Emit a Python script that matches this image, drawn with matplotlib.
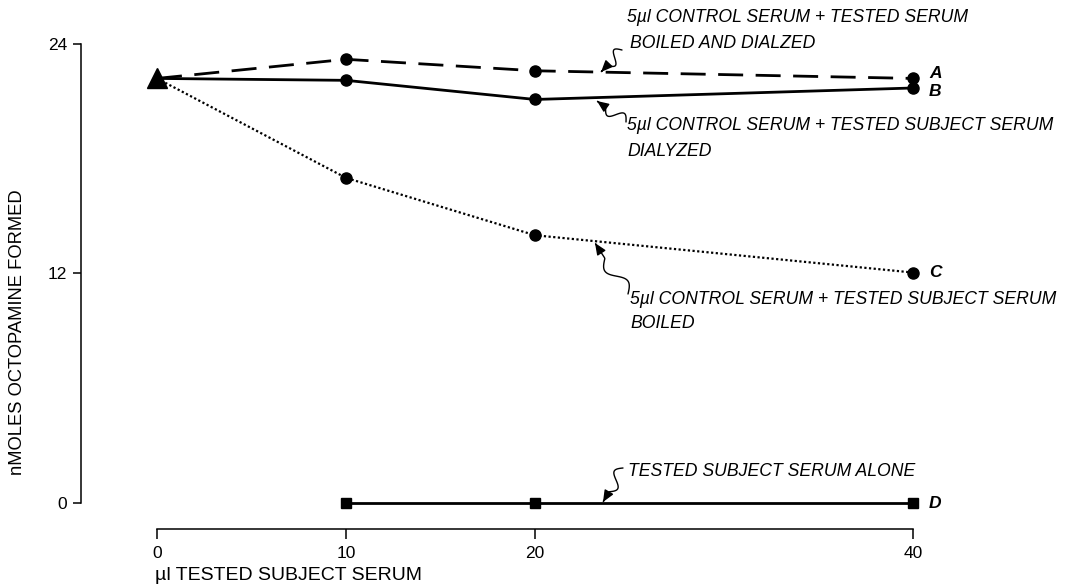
import numpy as np
import matplotlib
matplotlib.use("Agg")
import matplotlib.pyplot as plt
from matplotlib.patches import FancyArrowPatch
from matplotlib.path import Path
from matplotlib.transforms import IdentityTransform

plt.rcParams.update({
    "font.family": ["Liberation Sans", "DejaVu Sans"],
    "font.size": 12,
})

# data
x_all = [0, 10, 20, 40]
a_vals = [22.2, 23.2, 22.6, 22.2]   # boiled and dialyzed
b_vals = [22.2, 22.1, 21.1, 21.7]   # dialyzed
c_vals = [22.2, 17.0, 14.0, 12.05]  # boiled
x_d = [10, 20, 40]
d_vals = [0.0, 0.0, 0.0]            # tested serum alone
xticks = [0, 10, 20, 40]
yticks = [0, 12, 24]

W, H = 1071, 586
fig = plt.figure(figsize=(W / 100, H / 100), dpi=100, facecolor="white")
ax = fig.add_axes([81 / W, (H - 529) / H, (W - 81) / W, 529 / H])

pxx = (913 - 157) / 40.0
pxy = (503 - 44) / 24.0
ax.set_xlim((81 - 157) / pxx, (W - 157) / pxx)
ax.set_ylim((503 - 529) / pxy, 503 / pxy)

ax.plot(x_all, a_vals, color="black", lw=2.0, dashes=(9, 4.5), zorder=2)
ax.plot(x_all[1:], a_vals[1:], "o", color="black", ms=8, zorder=3)
ax.plot(x_all, b_vals, color="black", lw=2.0, zorder=2)
ax.plot(x_all[1:], b_vals[1:], "o", color="black", ms=8, zorder=3)
ax.plot(x_all, c_vals, color="black", lw=1.6, ls=(0, (1, 1.1)), zorder=2)
ax.plot(x_all[1:], c_vals[1:], "o", color="black", ms=8, zorder=3)
ax.plot(x_d, d_vals, color="black", lw=2.0, marker="s", ms=7.5, zorder=3)
ax.plot([0], [a_vals[0]], "^", color="black", ms=14, zorder=4)

for s in ["top", "right"]:
    ax.spines[s].set_visible(False)
ax.spines["left"].set_bounds(0, 24)
ax.spines["bottom"].set_bounds(0, 40)
ax.spines["left"].set_linewidth(1.1)
ax.spines["bottom"].set_linewidth(1.1)
ax.set_xticks(xticks)
ax.set_yticks(yticks)
ax.tick_params(axis="y", direction="out", length=6, width=1.1, pad=4, labelsize=12.5)
ax.tick_params(axis="x", direction="out", length=7, width=1.1, pad=5, labelsize=12.5)
ax.set_facecolor("none")

fig.text(18 / W, 1 - 332 / H, "nMOLES OCTOPAMINE FORMED", rotation=90,
         ha="center", va="center", fontsize=13.2)
fig.text(155 / W, 1 - 576 / H, "\u00b5l TESTED SUBJECT SERUM",
         ha="left", va="center", fontsize=14)

# end labels
lab_kw = dict(fontsize=12.5, fontweight="bold", fontstyle="italic",
              ha="left", va="center")
ax.annotate("A", (40, a_vals[-1]), xytext=(16, 5), textcoords="offset pixels", **lab_kw)
ax.annotate("B", (40, b_vals[-1]), xytext=(16, -4), textcoords="offset pixels", **lab_kw)
ax.annotate("C", (40, c_vals[-1]), xytext=(16, 0), textcoords="offset pixels", **lab_kw)
ax.annotate("D", (40, d_vals[-1]), xytext=(16, 0), textcoords="offset pixels", **lab_kw)

note_kw = dict(fontsize=12.7, fontstyle="italic", ha="left", va="center")


def ptext(px, py, s):
    fig.text(px / W, 1 - py / H, s, **note_kw)


ptext(627, 18, "5\u00b5l CONTROL SERUM + TESTED SERUM")
ptext(630, 44, "BOILED AND DIALZED")
ptext(627, 126, "5\u00b5l CONTROL SERUM + TESTED SUBJECT SERUM")
ptext(627, 152, "DIALYZED")
ptext(630, 300, "5\u00b5l CONTROL SERUM + TESTED SUBJECT SERUM")
ptext(630, 323, "BOILED")
ptext(628, 472, "TESTED SUBJECT SERUM ALONE")


def squiggle(tail, head, amp=6):
    # wavy leader from tail to head (pixel coords, y down)
    tx, ty = tail
    hx, hy = head
    t = np.linspace(0, 1, 60)
    dx, dy = hx - tx, hy - ty
    L = np.hypot(dx, dy)
    nx, ny = -dy / L, dx / L
    wave = amp * np.sin(2 * np.pi * np.clip(t / 0.7, 0, 1)) * (t < 0.7)
    xs = tx + dx * t + nx * wave
    ys = ty + dy * t + ny * wave
    verts = np.column_stack([xs, H - ys])
    arr = FancyArrowPatch(path=Path(verts), arrowstyle="-|>,head_length=7,head_width=3",
                          color="black", lw=1.0, transform=IdentityTransform())
    fig.patches.append(arr)


squiggle((622, 50), (601, 72))
squiggle((626, 122), (597, 101))
squiggle((628, 294), (595, 243), amp=7)
squiggle((623, 468), (603, 502))

fig.savefig("out.png", dpi=100, facecolor="white")
